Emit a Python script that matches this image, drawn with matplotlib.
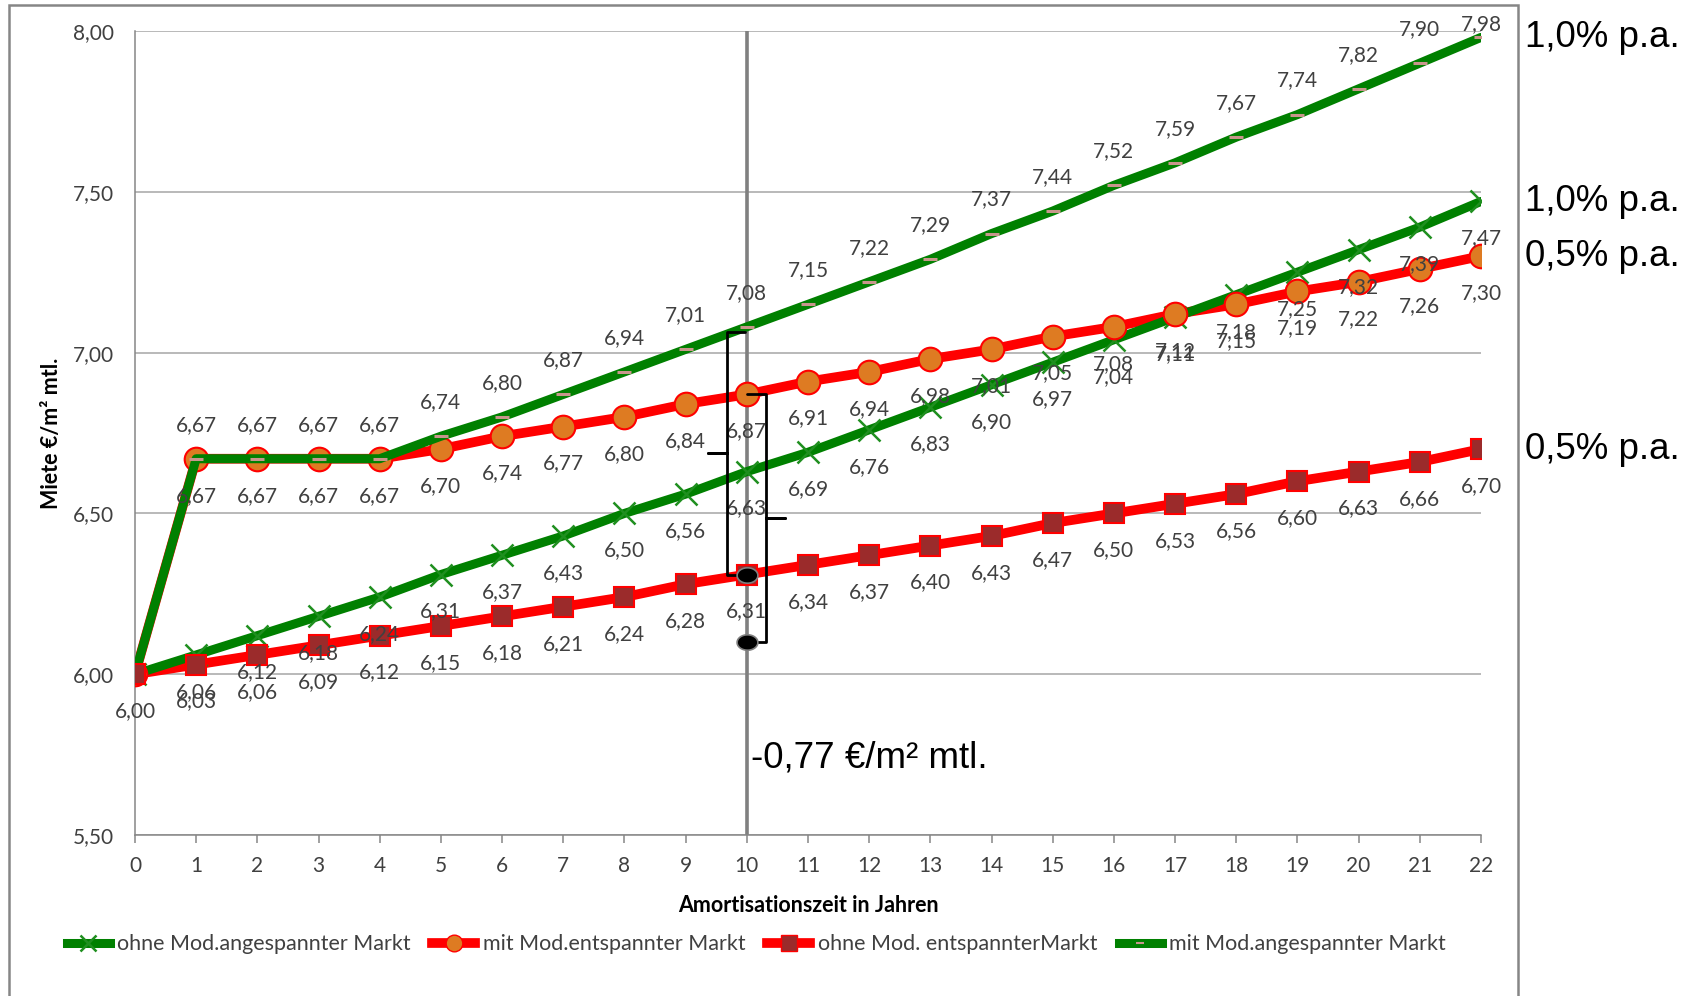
import numpy as np
import matplotlib
matplotlib.use("Agg")
import matplotlib.pyplot as plt
from matplotlib.lines import Line2D
from matplotlib.patches import Rectangle
from matplotlib.ticker import FuncFormatter, MultipleLocator

# ---- data -------------------------------------------------------------
years = list(range(0, 23))

ohne_mod_angespannt = [6.00, 6.06, 6.12, 6.18, 6.24, 6.31, 6.37, 6.43, 6.50, 6.56, 6.63, 6.69,
                       6.76, 6.83, 6.90, 6.97, 7.04, 7.11, 7.18, 7.25, 7.32, 7.39, 7.47]
mit_mod_entspannt = [6.00, 6.67, 6.67, 6.67, 6.67, 6.70, 6.74, 6.77, 6.80, 6.84, 6.87, 6.91,
                     6.94, 6.98, 7.01, 7.05, 7.08, 7.12, 7.15, 7.19, 7.22, 7.26, 7.30]
ohne_mod_entspannt = [6.00, 6.03, 6.06, 6.09, 6.12, 6.15, 6.18, 6.21, 6.24, 6.28, 6.31, 6.34,
                      6.37, 6.40, 6.43, 6.47, 6.50, 6.53, 6.56, 6.60, 6.63, 6.66, 6.70]
mit_mod_angespannt = [6.00, 6.67, 6.67, 6.67, 6.67, 6.74, 6.80, 6.87, 6.94, 7.01, 7.08, 7.15,
                      7.22, 7.29, 7.37, 7.44, 7.52, 7.59, 7.67, 7.74, 7.82, 7.90, 7.98]

series_names = ["ohne Mod.angespannter Markt", "mit Mod.entspannter Markt",
                "ohne Mod. entspannterMarkt", "mit Mod.angespannter Markt"]
growth_labels = ["1,0% p.a.", "1,0% p.a.", "0,5% p.a.", "0,5% p.a."]

marker_year = 10          # year highlighted by the vertical line
gap_value = 0.77          # rent difference shown by the braces
gap_text = "-0,77 €/m² mtl."

# ---- styling ----------------------------------------------------------
FONT = "Lato"
BIG_FONT = "Liberation Sans"
TXT = "#404040"
GREEN = "#008000"
RED = "#FF0000"

def de(v, _=None):
    return f"{v:.2f}".replace(".", ",")

fig = plt.figure(figsize=(16.96, 9.96), dpi=100)
fig.patch.set_facecolor("white")
ax = fig.add_axes([0.0796, 0.1616, 0.7936, 0.8073])

x = np.array(years)

# lines and markers, layered like the source chart
ax.plot(x, mit_mod_entspannt, color=RED, lw=7, solid_capstyle="round", zorder=2)
ax.plot(x, ohne_mod_entspannt, color=RED, lw=7, solid_capstyle="round", zorder=2)
ax.plot(x, ohne_mod_angespannt, color=GREEN, lw=6.5, solid_capstyle="round", zorder=3)
ax.plot(x, ohne_mod_angespannt, ls="none", marker="x", ms=16, mew=1.8,
        color="#1f8f1f", zorder=3.2)
ax.plot(x, mit_mod_entspannt, ls="none", marker="o", ms=17, mfc="#DE7B22",
        mec=RED, mew=1.5, zorder=4)
ax.plot(x, mit_mod_angespannt, color=GREEN, lw=6.5, solid_capstyle="round", zorder=5)
ax.plot(x, mit_mod_angespannt, ls="none", marker="_", ms=10, mew=2.2,
        color="#C8968C", zorder=5.2)
ax.plot(x, ohne_mod_entspannt, ls="none", marker="s", ms=15, mfc="#9B2B2B",
        mec=RED, mew=1.5, zorder=5.5)

ax.set_xlim(0, 22)
ax.set_ylim(5.5, 8.0)
ax.yaxis.set_major_locator(MultipleLocator(0.5))
ax.xaxis.set_major_locator(MultipleLocator(1))
ax.yaxis.set_major_formatter(FuncFormatter(de))
ax.grid(axis="y", color="#A6A6A6", lw=1.1, zorder=0)
ax.set_axisbelow(True)
for s in ["top", "right"]:
    ax.spines[s].set_visible(False)
for s in ["left", "bottom"]:
    ax.spines[s].set_color("#868686")
    ax.spines[s].set_linewidth(1.1)
ax.tick_params(axis="y", length=0, pad=15, labelsize=15, labelcolor=TXT)
ax.tick_params(axis="x", length=6, width=1.1, color="#868686", pad=9,
               labelsize=15, labelcolor=TXT, direction="out")
for lab in ax.get_xticklabels() + ax.get_yticklabels():
    lab.set_fontfamily(FONT)

ax.set_xlabel("Amortisationszeit in Jahren", fontsize=15.5, fontweight="bold",
              fontfamily=FONT, color="black")
ax.set_ylabel("Miete €/m² mtl.", fontsize=15.5, fontweight="bold",
              fontfamily=FONT, color="black")
ax.xaxis.set_label_coords(0.5, -0.074)
ax.yaxis.set_label_coords(-0.054, 0.5)

# vertical marker at the amortisation year
ax.axvline(marker_year, color="#808080", lw=2.6, zorder=2.5)

# ---- data labels ------------------------------------------------------
fig.canvas.draw()
fig_h_px = fig.get_size_inches()[1] * fig.dpi
px_per_pt = fig.dpi / 72.0

def label_series(vals, above, start=0):
    for xi, v in zip(years[start:], vals[start:]):
        off = 24.5 if above else -26.6
        if above:
            y_disp = ax.transData.transform((xi, v))[1]
            room = (fig_h_px - 24 - y_disp) / px_per_pt
            off = min(off, room)
        ax.annotate(de(v), (xi, v), xytext=(0, off), textcoords="offset points",
                    ha="center", va="center", fontsize=15, fontfamily=FONT,
                    color=TXT, zorder=7, annotation_clip=False)

label_series(ohne_mod_angespannt, above=False, start=1)
label_series(mit_mod_entspannt, above=False, start=1)
label_series(ohne_mod_entspannt, above=False, start=0)
label_series(mit_mod_angespannt, above=True, start=1)

# ---- braces showing the gap ------------------------------------------
def brace(x_line, x_end, x_tip, y_top, y_bot):
    y_mid = (y_top + y_bot) / 2
    xs = [x_end, x_line, x_line, x_tip, x_line, x_line, x_end]
    ys = [y_top, y_top, y_mid, y_mid, y_mid, y_bot, y_bot]
    ax.plot(xs, ys, color="black", lw=2.0, solid_joinstyle="round",
            solid_capstyle="round", zorder=8)

i10 = years.index(marker_year)
top_left = mit_mod_angespannt[i10] - 0.015
brace(marker_year - 0.32, marker_year - 0.03, marker_year - 0.63,
      top_left, ohne_mod_entspannt[i10])
top_right = mit_mod_entspannt[i10]
brace(marker_year + 0.31, marker_year, marker_year + 0.62,
      top_right, top_right - gap_value)

t = np.linspace(0, 2 * np.pi, 40)
ellipse = list(zip(1.35 * np.cos(t), np.sin(t)))
ax.plot([marker_year, marker_year],
        [ohne_mod_entspannt[i10], top_right - gap_value],
        ls="none", marker=ellipse, ms=15, mfc="black", mec="#7f7f7f",
        mew=1.2, zorder=9)

ax.annotate(gap_text, (marker_year, 5.74), xytext=(3, 0), textcoords="offset points",
            ha="left", va="center", fontsize=26.5, fontfamily=BIG_FONT,
            color="black", zorder=9)

# growth rate notes beside the series ends
for vals, txt in zip([mit_mod_angespannt, ohne_mod_angespannt,
                      mit_mod_entspannt, ohne_mod_entspannt], growth_labels):
    ax.annotate(txt, (22, vals[-1]), xytext=(31.5, 0), textcoords="offset points",
                ha="left", va="center", fontsize=26.5, fontfamily=BIG_FONT,
                color="black", annotation_clip=False)

# ---- legend -----------------------------------------------------------
handles = [
    Line2D([], [], color=GREEN, lw=6.5, marker="x", ms=12, mew=1.8, mec="#1f8f1f"),
    Line2D([], [], color=RED, lw=7, marker="o", ms=12, mfc="#DE7B22", mec=RED),
    Line2D([], [], color=RED, lw=7, marker="s", ms=11, mfc="#9B2B2B", mec=RED),
    Line2D([], [], color=GREEN, lw=6.5, marker="_", ms=6, mew=1.5, mec="#C8968C"),
]
leg = fig.legend(handles, series_names, loc="center", bbox_to_anchor=(0.446, 0.052),
                 ncol=4, frameon=False, handlelength=2.0, handletextpad=0.35,
                 columnspacing=1.0, prop={"family": FONT, "size": 15.5})
for txt in leg.get_texts():
    txt.set_color(TXT)

# chart area border
fig.add_artist(Rectangle((9 / 1696, -0.02), (1518 - 9) / 1696, 1.02 - 5 / 996,
                         transform=fig.transFigure, fill=False,
                         edgecolor="#868686", lw=1.8, zorder=0))

fig.savefig("out.png", dpi=100, facecolor="white")
